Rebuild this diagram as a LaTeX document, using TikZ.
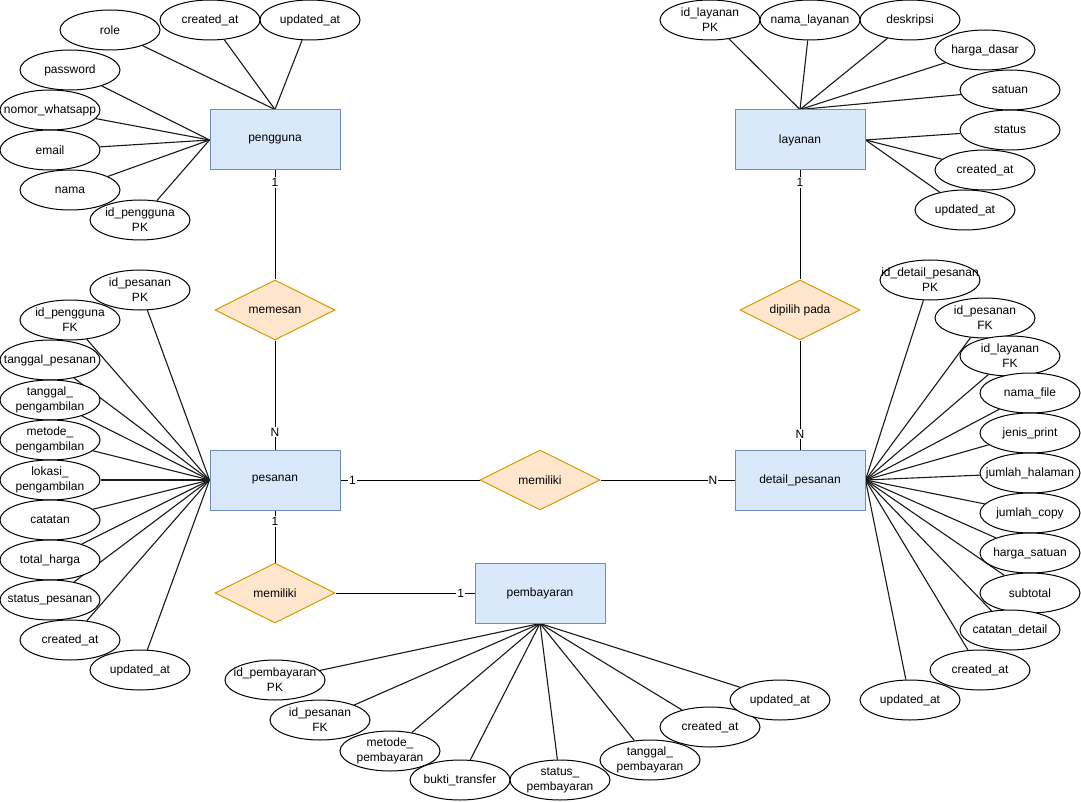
\documentclass[tikz,border=0pt]{standalone}
\usepackage{fontspec}
\setmainfont{Liberation Sans}
\usetikzlibrary{shapes.geometric}
\pgfdeclarelayer{bg}
\pgfsetlayers{bg,main}
\definecolor{entfill}{HTML}{DAE8FC}
\definecolor{entdraw}{HTML}{6C8EBF}
\definecolor{relfill}{HTML}{FFE6CC}
\definecolor{reldraw}{HTML}{D79B00}
\tikzset{
  txt/.style={font=\fontsize{12}{15}\selectfont},
  entity/.style={rectangle, draw=entdraw, fill=entfill, minimum width=130pt, minimum height=60pt, inner sep=0pt, line width=1pt, txt},
  relation/.style={diamond, draw=reldraw, fill=relfill, minimum width=120pt, minimum height=60pt, aspect=2, inner sep=0pt, line width=1pt, txt},
  attrlabel/.style={align=center, inner sep=0pt, txt},
  attrib/.style={ellipse, draw=black, fill=white, minimum width=100pt, minimum height=40pt, inner sep=0pt, line width=1pt, label={[attrlabel]center:#1}},
  conn/.style={draw=black!90, line width=1.1pt},
  rel/.style={draw=black, line width=1pt},
  card/.style={fill=white, inner sep=1pt, txt},
}
\begin{document}
\begin{tikzpicture}[x=1pt,y=-1pt]
\useasboundingbox (0,0) rectangle (1081,802);

% entities
\node[entity] (pengguna) at (275,140) {pengguna};
\node[entity] (layanan) at (800,140) {layanan};
\node[entity] (pesanan) at (275,480) {pesanan};
\node[entity] (detail) at (800,480) {detail\_pesanan};
\node[entity] (pembayaran) at (540,593) {pembayaran};

% relations
\node[relation] (memesan) at (275,310) {memesan};
\node[relation] (dipilih) at (800,310) {dipilih pada};
\node[relation] (memiliki1) at (540,480) {memiliki};
\node[relation] (memiliki2) at (275,593) {memiliki};

% pengguna attributes
\node[attrib={role}] (pg1) at (110,30) {};
\node[attrib={created\_at}] (pg2) at (210,20) {};
\node[attrib={updated\_at}] (pg3) at (310,20) {};
\node[attrib={password}] (pg4) at (70,70) {};
\node[attrib={nomor\_whatsapp}] (pg5) at (50,110) {};
\node[attrib={email}] (pg6) at (50,150) {};
\node[attrib={nama}] (pg7) at (70,190) {};
\node[attrib={id\_pengguna\\PK}] (pg8) at (140,220) {};

% layanan attributes
\node[attrib={id\_layanan\\PK}] (ly1) at (710,20) {};
\node[attrib={nama\_layanan}] (ly2) at (810,20) {};
\node[attrib={deskripsi}] (ly3) at (910,20) {};
\node[attrib={harga\_dasar}] (ly4) at (985,50) {};
\node[attrib={satuan}] (ly5) at (1010,90) {};
\node[attrib={status}] (ly6) at (1010,130) {};
\node[attrib={created\_at}] (ly7) at (985,170) {};
\node[attrib={updated\_at}] (ly8) at (965,210) {};

% pesanan attributes
\node[attrib={id\_pesanan\\PK}] (ps1) at (140,290) {};
\node[attrib={id\_pengguna\\FK}] (ps2) at (70,320) {};
\node[attrib={tanggal\_pesanan}] (ps3) at (50,360) {};
\node[attrib={tanggal\_\\pengambilan}] (ps4) at (50,400) {};
\node[attrib={metode\_\\pengambilan}] (ps5) at (50,440) {};
\node[attrib={lokasi\_\\pengambilan}] (ps6) at (50,480) {};
\node[attrib={catatan}] (ps7) at (50,520) {};
\node[attrib={total\_harga}] (ps8) at (50,560) {};
\node[attrib={status\_pesanan}] (ps9) at (50,600) {};
\node[attrib={created\_at}] (ps10) at (70,640) {};
\node[attrib={updated\_at}] (ps11) at (140,670) {};

% detail_pesanan attributes
\node[attrib={id\_detail\_pesanan\\PK}] (dt1) at (930,280) {};
\node[attrib={id\_pesanan\\FK}] (dt2) at (985,318) {};
\node[attrib={id\_layanan\\FK}] (dt3) at (1010,356) {};
\node[attrib={nama\_file}] (dt4) at (1030,393) {};
\node[attrib={jenis\_print}] (dt5) at (1030,433) {};
\node[attrib={jumlah\_halaman}] (dt6) at (1030,473) {};
\node[attrib={jumlah\_copy}] (dt7) at (1030,513) {};
\node[attrib={harga\_satuan}] (dt8) at (1030,553) {};
\node[attrib={subtotal}] (dt9) at (1030,593) {};
\node[attrib={catatan\_detail}] (dt10) at (1010,630) {};
\node[attrib={created\_at}] (dt11) at (980,670) {};
\node[attrib={updated\_at}] (dt12) at (910,700) {};

% pembayaran attributes
\node[attrib={id\_pembayaran\\PK}] (pb1) at (275,680) {};
\node[attrib={id\_pesanan\\FK}] (pb2) at (320,720) {};
\node[attrib={metode\_\\pembayaran}] (pb3) at (390,751) {};
\node[attrib={bukti\_transfer}] (pb4) at (460,780) {};
\node[attrib={status\_\\pembayaran}] (pb5) at (560,780) {};
\node[attrib={tanggal\_\\pembayaran}] (pb6) at (650,760) {};
\node[attrib={created\_at}] (pb7) at (710,727) {};
\node[attrib={updated\_at}] (pb8) at (780,700) {};

\begin{pgfonlayer}{bg}
% attribute connectors
\foreach \a in {pg1,pg2,pg3} \draw[conn] (\a) -- (pengguna.north);
\foreach \a in {pg4,pg5,pg6,pg7,pg8} \draw[conn] (\a) -- (pengguna.west);
\foreach \a in {ly1,ly2,ly3,ly4,ly5} \draw[conn] (\a) -- (layanan.north);
\foreach \a in {ly6,ly7,ly8} \draw[conn] (\a) -- (layanan.east);
\foreach \a in {ps1,ps2,ps3,ps4,ps5,ps6,ps7,ps8,ps9,ps10,ps11} \draw[conn] (\a) -- (pesanan.west);
\foreach \a in {dt1,dt2,dt3,dt4,dt5,dt6,dt7,dt8,dt9,dt10,dt11,dt12} \draw[conn] (\a) -- (detail.east);
\foreach \a in {pb1,pb2,pb3,pb4,pb5,pb6,pb7,pb8} \draw[conn] (\a) -- (pembayaran.south);
\end{pgfonlayer}

% relationship connectors
\draw[rel] (pengguna.south) -- node[card,pos=0.11]{1} (memesan.north);
\draw[rel] (memesan.south) -- node[card,pos=0.84]{N} (pesanan.north);
\draw[rel] (layanan.south) -- node[card,pos=0.11]{1} (dipilih.north);
\draw[rel] (dipilih.south) -- node[card,pos=0.86]{N} (detail.north);
\draw[rel] (pesanan.east) -- node[card,pos=0.086]{1} (memiliki1.west);
\draw[rel] (memiliki1.east) -- node[card,pos=0.84]{N} (detail.west);
\draw[rel] (pesanan.south) -- node[card,pos=0.21]{1} (memiliki2.north);
\draw[rel] (memiliki2.east) -- node[card,pos=0.9]{1} (pembayaran.west);
\end{tikzpicture}
\end{document}
